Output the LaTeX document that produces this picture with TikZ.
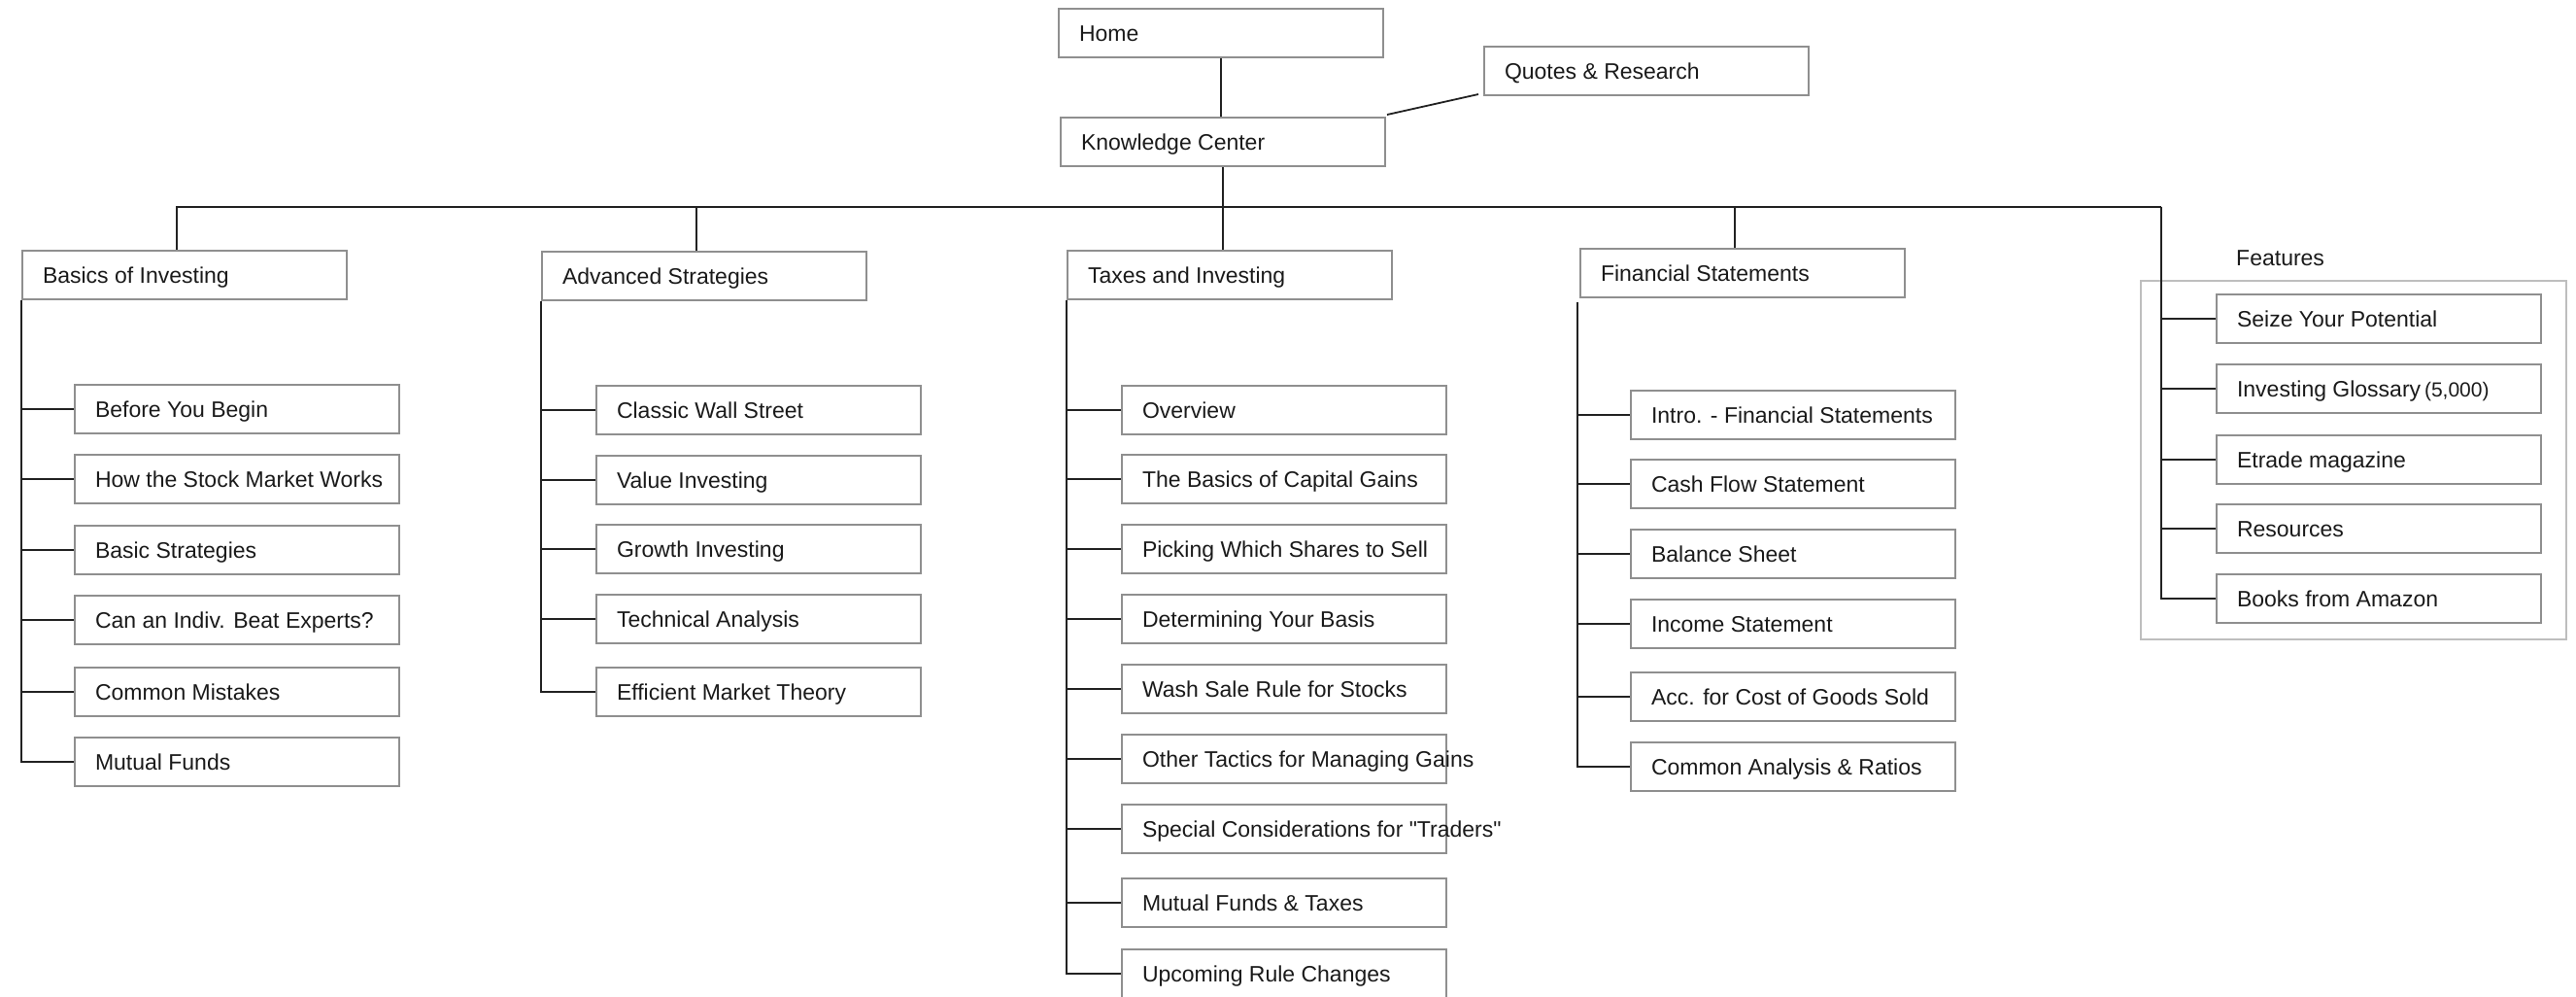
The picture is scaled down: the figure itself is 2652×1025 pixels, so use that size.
\documentclass[tikz,border=0pt]{standalone}
\usepackage{fontspec}
\setmainfont{Liberation Sans}[Ligatures=TeXOff]
\definecolor{boxgray}{HTML}{8F8F8F}
\definecolor{framegray}{HTML}{BEBEBE}
\definecolor{linec}{HTML}{222222}
\definecolor{txt}{HTML}{1A1A1A}
\newcommand{\boxtxt}[1]{\makebox[292pt][l]{#1}}
\tikzset{
  pagebox/.style={draw=boxgray, line width=2pt, anchor=north west, minimum height=50pt,
    inner xsep=21pt, inner ysep=0pt, text height=20pt, text depth=3pt,
    font=\fontsize{23}{26}\selectfont, text=txt},
  conn/.style={draw=linec, line width=1.8pt},
  groupframe/.style={draw=framegray, line width=1.5pt, anchor=north west,
    minimum width=438pt, minimum height=369pt, inner sep=0pt},
  plainlabel/.style={anchor=base west, inner sep=0pt, font=\fontsize{23}{26}\selectfont, text=txt}
}
\begin{document}
\begin{tikzpicture}[x=1pt,y=-1pt]
\useasboundingbox (0,0) rectangle (2652,1025);
% top level
\node[pagebox] (home)   at (1089,8)   {\boxtxt{Home}};
\node[pagebox] (quotes) at (1527,47)  {\boxtxt{Quotes \& Research}};
\node[pagebox] (kc)     at (1091,120) {\boxtxt{Knowledge Center}};
% sections
\node[pagebox] (basics) at (22,257)   {\boxtxt{Basics of Investing}};
\node[pagebox] (adv)    at (557,258)  {\boxtxt{Advanced Strategies}};
\node[pagebox] (taxes)  at (1098,257) {\boxtxt{Taxes and Investing}};
\node[pagebox] (fin)    at (1626,255) {\boxtxt{Financial Statements}};
% features group
\node[groupframe] (featgroup) at (2203,288) {};
\node[plainlabel] (featlabel) at (2302,273) {Features};
% basics children
\node[pagebox] (b1) at (76,395) {\boxtxt{Before You Begin}};
\node[pagebox] (b2) at (76,467) {\boxtxt{How the Stock Market Works}};
\node[pagebox] (b3) at (76,540) {\boxtxt{Basic Strategies}};
\node[pagebox] (b4) at (76,612) {\boxtxt{Can an Indiv. Beat Experts?}};
\node[pagebox] (b5) at (76,686) {\boxtxt{Common Mistakes}};
\node[pagebox] (b6) at (76,758) {\boxtxt{Mutual Funds}};
% advanced children
\node[pagebox] (a1) at (613,396) {\boxtxt{Classic Wall Street}};
\node[pagebox] (a2) at (613,468) {\boxtxt{Value Investing}};
\node[pagebox] (a3) at (613,539) {\boxtxt{Growth Investing}};
\node[pagebox] (a4) at (613,611) {\boxtxt{Technical Analysis}};
\node[pagebox] (a5) at (613,686) {\boxtxt{Efficient Market Theory}};
% taxes children
\node[pagebox] (t1) at (1154,396) {\boxtxt{Overview}};
\node[pagebox] (t2) at (1154,467) {\boxtxt{The Basics of Capital Gains}};
\node[pagebox] (t3) at (1154,539) {\boxtxt{Picking Which Shares to Sell}};
\node[pagebox] (t4) at (1154,611) {\boxtxt{Determining Your Basis}};
\node[pagebox] (t5) at (1154,683) {\boxtxt{Wash Sale Rule for Stocks}};
\node[pagebox] (t6) at (1154,755) {\boxtxt{Other Tactics for Managing Gains}};
\node[pagebox] (t7) at (1154,827) {\boxtxt{Special Considerations for "Traders"}};
\node[pagebox] (t8) at (1154,903) {\boxtxt{Mutual Funds \& Taxes}};
\node[pagebox] (t9) at (1154,976) {\boxtxt{Upcoming Rule Changes}};
% financial children
\node[pagebox] (s1) at (1678,401) {\boxtxt{Intro. - Financial Statements}};
\node[pagebox] (s2) at (1678,472) {\boxtxt{Cash Flow Statement}};
\node[pagebox] (s3) at (1678,544) {\boxtxt{Balance Sheet}};
\node[pagebox] (s4) at (1678,616) {\boxtxt{Income Statement}};
\node[pagebox] (s5) at (1678,691) {\boxtxt{Acc. for Cost of Goods Sold}};
\node[pagebox] (s6) at (1678,763) {\boxtxt{Common Analysis \& Ratios}};
% features children
\node[pagebox] (f1) at (2281,302) {\boxtxt{Seize Your Potential}};
\node[pagebox] (f2) at (2281,374) {\boxtxt{Investing Glossary\,{\fontsize{21}{24}\selectfont(5,000)}}};
\node[pagebox] (f3) at (2281,447) {\boxtxt{Etrade magazine}};
\node[pagebox] (f4) at (2281,518) {\boxtxt{Resources}};
\node[pagebox] (f5) at (2281,590) {\boxtxt{Books from Amazon}};
% connectors: top
\draw[conn] (home.south) -- (home.south |- kc.north);
\draw[conn] ([xshift=1pt,yshift=2pt]kc.north east) -- ([xshift=-5pt,yshift=2pt]quotes.south west);
\coordinate (bus) at (0,213);
\coordinate (featTop) at (2225,213);
\draw[conn] ([xshift=-8pt]basics.north) |- (featTop);
\draw[conn] ([xshift=-8pt]adv.north) -- ([xshift=-8pt]adv.north |- bus);
\draw[conn] (kc.south) -- (kc.south |- taxes.north);
\draw[conn] ([xshift=-8pt]fin.north) -- ([xshift=-8pt]fin.north |- bus);
% trunks
\draw[conn] (basics.south west) |- (b6.west);
\foreach \n in {b1,b2,b3,b4,b5} \draw[conn] (\n.west) -- (\n.west -| basics.south west);
\draw[conn] (adv.south west) |- (a5.west);
\foreach \n in {a1,a2,a3,a4} \draw[conn] (\n.west) -- (\n.west -| adv.south west);
\draw[conn] (taxes.south west) |- (t9.west);
\foreach \n in {t1,t2,t3,t4,t5,t6,t7,t8} \draw[conn] (\n.west) -- (\n.west -| taxes.south west);
\coordinate (fintrunk) at ([xshift=-2pt,yshift=-4pt]fin.south west);
\draw[conn] (fintrunk) |- (s6.west);
\foreach \n in {s1,s2,s3,s4,s5} \draw[conn] (\n.west) -- (\n.west -| fintrunk);
\draw[conn] (featTop) |- (f5.west);
\foreach \n in {f1,f2,f3,f4} \draw[conn] (\n.west) -- (\n.west -| featTop);
\end{tikzpicture}
\end{document}
